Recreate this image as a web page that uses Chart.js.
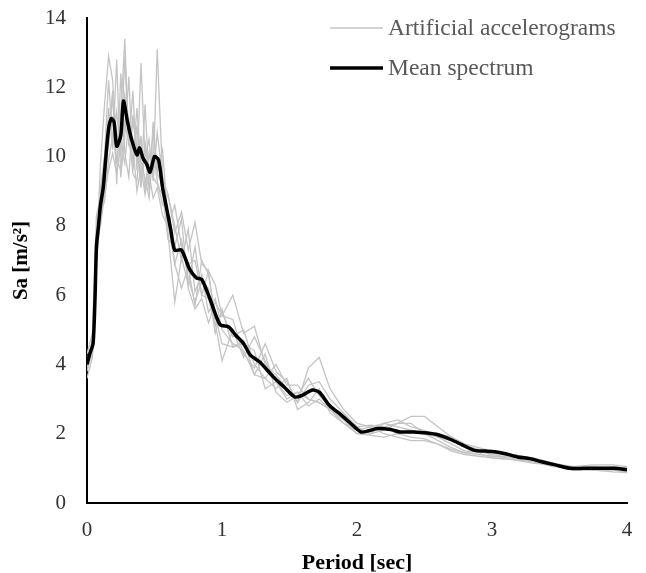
<!DOCTYPE html>
<html>
<head>
<meta charset="utf-8">
<script src="https://cdn.jsdelivr.net/npm/chart.js@4/dist/chart.umd.min.js"></script>
<style>
html,body{margin:0;padding:0;background:#fff;}
#wrap{width:646px;height:573px;position:relative;}
</style>
</head>
<body>
<div id="wrap"><canvas id="c" width="646" height="573"></canvas></div>
<script>
// ---- data ----
const seriesNames = ["Artificial accelerograms", "Mean spectrum"];
const xTickValues = [0, 1, 2, 3, 4];
const yTickValues = [0, 2, 4, 6, 8, 10, 12, 14];

const grayT = [0, 0.04, 0.07, 0.1, 0.13, 0.16, 0.19, 0.22, 0.25, 0.28, 0.31, 0.34, 0.37, 0.4, 0.43, 0.46, 0.49, 0.52,
  0.56, 0.6, 0.65, 0.7, 0.75, 0.8, 0.85, 0.9, 0.95, 1.0,
  1.08, 1.16, 1.24, 1.32, 1.4, 1.48, 1.56, 1.64, 1.72, 1.8,
  1.9, 2.0, 2.1, 2.2, 2.3, 2.4, 2.5, 2.6, 2.7, 2.8, 2.9, 3.0,
  3.15, 3.3, 3.45, 3.6, 3.75, 3.9, 4.0];

const acc1 = [3.8, 4.4, 7.2, 9.8, 11.5, 12.9, 12.2, 10.4, 11.2, 13.4, 10.3, 11.9, 9.6, 12.7, 9.9, 10.5, 9.3, 10.7,
  9.4, 8.9, 7.8, 8.4, 7.3, 8.1, 6.9, 6.7, 6.3, 5.4,
  6.0, 4.9, 5.1, 4.0, 3.7, 3.3, 2.9, 3.4, 3.5, 3.0,
  2.6, 2.2, 2.0, 2.3, 2.2, 2.1, 2.0, 2.0, 1.9, 1.7, 1.6, 1.5,
  1.4, 1.3, 1.15, 1.05, 1.0, 1.0, 0.95];
const acc2 = [4.1, 4.7, 7.8, 8.4, 9.2, 11.4, 10.2, 12.8, 9.4, 10.6, 12.3, 9.6, 10.9, 9.2, 10.3, 9.0, 11.0, 9.6,
  10.2, 8.1, 6.9, 6.2, 6.8, 5.7, 7.0, 6.6, 5.4, 4.6,
  4.5, 4.7, 3.7, 3.6, 3.3, 3.6, 2.7, 2.9, 3.3, 2.6,
  2.3, 2.0, 1.95, 1.9, 2.0, 1.9, 1.85, 1.7, 1.55, 1.45, 1.4, 1.35,
  1.3, 1.2, 1.1, 0.95, 0.95, 0.95, 0.9];
const acc3 = [3.6, 4.2, 6.8, 9.1, 10.0, 10.3, 11.8, 9.2, 12.4, 10.1, 9.4, 11.2, 10.3, 9.1, 10.4, 9.7, 9.5, 13.1,
  9.4, 7.8, 5.8, 7.1, 6.3, 7.4, 6.0, 6.7, 5.2, 4.1,
  5.0, 4.2, 4.8, 4.1, 3.5, 3.0, 3.2, 3.0, 2.9, 2.7,
  2.4, 2.1, 2.2, 2.3, 2.4, 2.2, 2.1, 1.9, 1.7, 1.5, 1.5, 1.45,
  1.35, 1.3, 1.15, 1.0, 1.0, 1.05, 1.0];
const acc4 = [4.3, 4.9, 8.3, 8.8, 10.0, 12.2, 10.4, 11.3, 10.0, 12.9, 10.4, 9.8, 11.4, 9.7, 9.4, 8.8, 10.2, 9.3,
  8.6, 8.9, 8.0, 7.0, 7.9, 6.1, 6.6, 5.5, 5.9, 5.0,
  4.6, 4.4, 3.7, 4.3, 3.2, 2.9, 3.1, 3.6, 3.1, 2.8,
  2.5, 2.2, 2.25, 2.2, 2.0, 2.1, 2.0, 1.8, 1.6, 1.45, 1.5, 1.4,
  1.3, 1.2, 1.1, 1.0, 1.05, 1.0, 1.0];
const acc5 = [3.9, 4.6, 7.0, 8.2, 9.0, 10.6, 11.9, 9.8, 10.9, 11.8, 10.8, 9.5, 9.3, 10.6, 9.0, 10.1, 9.4, 9.2,
  8.9, 7.6, 7.4, 8.2, 6.2, 5.6, 5.9, 5.2, 5.8, 5.4,
  5.3, 4.3, 3.9, 4.6, 3.8, 3.5, 2.9, 3.9, 4.2, 3.3,
  2.7, 2.3, 2.2, 2.0, 1.9, 1.8, 1.8, 1.7, 1.5, 1.4, 1.35, 1.3,
  1.25, 1.15, 1.1, 1.0, 0.95, 0.9, 0.88];
const acc6 = [4.2, 4.4, 7.5, 8.0, 8.9, 9.6, 10.1, 9.5, 10.4, 9.8, 11.1, 10.3, 9.0, 9.7, 8.9, 9.5, 8.8, 9.1,
  8.3, 8.0, 8.6, 7.4, 6.9, 7.0, 6.0, 5.9, 5.1, 5.5,
  4.8, 5.0, 4.0, 3.6, 4.0, 3.4, 3.4, 3.0, 2.9, 2.7,
  2.4, 2.0, 2.1, 2.2, 2.3, 2.5, 2.5, 2.2, 1.9, 1.65, 1.55, 1.35,
  1.3, 1.2, 1.1, 1.05, 1.1, 1.1, 1.05];
const acc7 = [4.0, 4.3, 7.3, 8.4, 8.7, 9.9, 10.6, 9.9, 9.6, 11.0, 10.4, 11.0, 10.2, 9.3, 11.5, 9.3, 10.7, 9.5,
  9.2, 8.3, 6.9, 7.6, 6.5, 5.8, 6.4, 6.2, 4.9, 5.6,
  4.5, 4.6, 4.4, 3.3, 3.5, 3.1, 3.2, 2.8, 3.0, 2.7,
  2.3, 2.1, 2.0, 2.1, 2.3, 2.3, 2.0, 1.9, 1.8, 1.6, 1.45, 1.3,
  1.25, 1.2, 1.05, 1.0, 1.0, 1.0, 0.92];

const meanT = [0, 0.02, 0.045, 0.06, 0.07, 0.085, 0.1, 0.12, 0.14, 0.16, 0.18, 0.2, 0.22, 0.25, 0.27, 0.3, 0.33, 0.37, 0.39,
  0.415, 0.44, 0.467, 0.5, 0.53, 0.56, 0.59, 0.62, 0.65, 0.7, 0.76, 0.81, 0.85, 0.91, 0.985, 1.05, 1.1, 1.16, 1.21,
  1.28, 1.38, 1.46, 1.54, 1.6, 1.67, 1.72, 1.8, 1.88, 1.95, 2.03, 2.1, 2.15, 2.25, 2.32, 2.42, 2.52, 2.6, 2.69,
  2.78, 2.87, 2.95, 3.02, 3.1, 3.19, 3.28, 3.36, 3.47, 3.58, 3.68, 3.78, 3.9, 4.0];
const meanSa = [4.0, 4.3, 4.6, 6.0, 7.4, 8.0, 8.6, 9.1, 10.0, 10.8, 11.1, 11.0, 10.3, 10.6, 11.6, 11.0, 10.5, 10.05, 10.25,
  9.95, 9.8, 9.55, 10.0, 9.9, 9.1, 8.5, 7.9, 7.3, 7.3, 6.75, 6.5, 6.45, 5.9, 5.15, 5.08, 4.85, 4.6, 4.27,
  4.07, 3.64, 3.35, 3.06, 3.12, 3.26, 3.2, 2.8, 2.55, 2.31, 2.05, 2.1, 2.15, 2.12, 2.05, 2.05, 2.02, 1.97, 1.84,
  1.68, 1.52, 1.5, 1.48, 1.42, 1.33, 1.28, 1.2, 1.1, 1.0, 1.0, 1.0, 1.0, 0.96];

// ---- chart ----
const accList = [acc1, acc2, acc3, acc4, acc5, acc6, acc7];
const GRAY = '#c4c4c4';
const datasets = [{
  label: seriesNames[1],
  data: meanT.map((t, i) => ({x: t, y: meanSa[i]})),
  borderColor: '#000',
  borderWidth: 3.5,
  pointRadius: 0,
  tension: 0.25,
  order: 0
}];
accList.forEach(a => datasets.push({
  label: seriesNames[0],
  data: grayT.map((t, i) => ({x: t, y: a[i]})),
  borderColor: GRAY,
  borderWidth: 1.3,
  pointRadius: 0,
  tension: 0,
  order: 1
}));

const FONT = "'Liberation Serif', 'Times New Roman', serif";

const legendPlugin = {
  id: 'sideLegend',
  afterDraw(chart) {
    const ctx = chart.ctx;
    const items = [
      {text: seriesNames[0], color: GRAY, width: 1.3, y: 28},
      {text: seriesNames[1], color: '#000', width: 3.5, y: 68}
    ];
    ctx.save();
    ctx.font = "23.5px " + FONT;
    ctx.textBaseline = 'middle';
    ctx.textAlign = 'left';
    items.forEach(it => {
      ctx.beginPath();
      ctx.strokeStyle = it.color;
      ctx.lineWidth = it.width;
      ctx.moveTo(330, it.y);
      ctx.lineTo(383, it.y);
      ctx.stroke();
      ctx.fillStyle = '#595959';
      ctx.fillText(it.text, 388, it.y + 1);
    });
    ctx.restore();
  }
};

new Chart(document.getElementById('c'), {
  type: 'line',
  data: {datasets},
  options: {
    responsive: false,
    animation: false,
    events: [],
    layout: {padding: {top: 18, right: 19, left: 0, bottom: 0}},
    plugins: {legend: {display: false}, tooltip: {enabled: false}},
    scales: {
      x: {
        type: 'linear',
        min: 0, max: 4,
        afterBuildTicks: s => { s.ticks = xTickValues.map(v => ({value: v})); },
        afterFit: s => { s.height = 70; s.paddingLeft = 0; s.paddingRight = 0; },
        grid: {drawOnChartArea: false, drawTicks: false},
        border: {display: true, color: '#000', width: 2},
        ticks: {color: '#333', font: {family: FONT, size: 21}, padding: 15, maxRotation: 0},
        title: {display: true, text: 'Period [sec]', color: '#000', font: {family: FONT, size: 22, weight: 'bold'}, padding: {top: 0, bottom: -4}}
      },
      y: {
        type: 'linear',
        min: 0, max: 14,
        afterBuildTicks: s => { s.ticks = yTickValues.map(v => ({value: v})); },
        afterFit: s => { s.width = 87; s.paddingTop = 0; s.paddingBottom = 0; },
        grid: {drawOnChartArea: false, drawTicks: false},
        border: {display: true, color: '#000', width: 2},
        ticks: {color: '#333', font: {family: FONT, size: 21}, padding: 21},
        title: {display: true, text: 'Sa [m/s²]', color: '#000', font: {family: FONT, size: 21, weight: 'bold'}, padding: {top: 9, bottom: 0}}
      }
    }
  },
  plugins: [legendPlugin]
});
</script>
</body>
</html>
